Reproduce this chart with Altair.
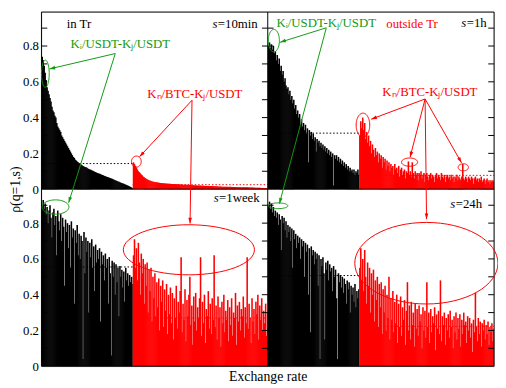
import math
import altair as alt
import pandas as pd

# ---------------- data ----------------
NB, NR = 94, 139          # bars per panel: in Tr (black), outside Tr (red)
PW = NB + NR              # bars per panel
PH = 0.99                 # rho range of one panel

tl_black = [0.74, 0.72, 0.69, 0.65, 0.61, 0.57, 0.55, 0.53, 0.51, 0.49,
            0.46, 0.44, 0.43, 0.41, 0.40, 0.37, 0.35, 0.34, 0.33, 0.32,
            0.30, 0.29, 0.28, 0.27, 0.26, 0.25, 0.24, 0.23, 0.22, 0.21,
            0.20, 0.19, 0.18, 0.175, 0.165, 0.16, 0.155, 0.15, 0.145, 0.14,
            0.138, 0.134, 0.13, 0.127, 0.124, 0.122, 0.119, 0.116, 0.113, 0.11,
            0.108, 0.105, 0.103, 0.1, 0.097, 0.095, 0.092, 0.09, 0.088, 0.086,
            0.084, 0.081, 0.079, 0.077, 0.074, 0.072, 0.07, 0.068, 0.066, 0.064,
            0.062, 0.06, 0.058, 0.056, 0.053, 0.05, 0.048, 0.045, 0.043, 0.041,
            0.039, 0.036, 0.034, 0.032, 0.03, 0.028, 0.025, 0.023, 0.02, 0.018,
            0.015, 0.012, 0.009, 0.006]
tl_red = [0.15, 0.14, 0.13, 0.12, 0.11, 0.10, 0.095, 0.088, 0.082, 0.077,
          0.07, 0.066, 0.062, 0.058, 0.055, 0.052, 0.05, 0.048, 0.046, 0.044,
          0.042, 0.041, 0.04, 0.039, 0.038, 0.037, 0.036, 0.035, 0.034, 0.034,
          0.033, 0.033, 0.032, 0.032, 0.031, 0.031, 0.03, 0.03, 0.03, 0.029,
          0.029, 0.029, 0.028, 0.028, 0.028, 0.027, 0.027, 0.027, 0.026, 0.026,
          0.026, 0.025, 0.025, 0.025, 0.024, 0.024, 0.024, 0.023, 0.023, 0.023,
          0.022, 0.022, 0.022, 0.021, 0.021, 0.021, 0.02, 0.02, 0.02, 0.02,
          0.019, 0.019, 0.019, 0.019, 0.018, 0.018, 0.018, 0.018, 0.017, 0.017,
          0.017, 0.017, 0.016, 0.016, 0.016, 0.016, 0.016, 0.015, 0.015, 0.015,
          0.015, 0.014, 0.014, 0.014, 0.014, 0.014, 0.013, 0.013, 0.013, 0.013,
          0.013, 0.012, 0.012, 0.012, 0.012, 0.012, 0.011, 0.011, 0.011, 0.011,
          0.011, 0.011, 0.01, 0.01, 0.01, 0.01, 0.01, 0.01, 0.01, 0.009,
          0.009, 0.009, 0.009, 0.009, 0.009, 0.008, 0.008, 0.008, 0.008, 0.008,
          0.008, 0.007, 0.007, 0.007, 0.007, 0.007, 0.006, 0.006, 0.006]
tr_black = [0.80, 0.82, 0.79, 0.81, 0.78, 0.80, 0.76, 0.77, 0.72, 0.75,
            0.70, 0.73, 0.66, 0.69, 0.64, 0.66, 0.60, 0.62, 0.58, 0.56,
            0.57, 0.53, 0.55, 0.50, 0.52, 0.48, 0.50, 0.45, 0.47, 0.42,
            0.44, 0.40, 0.42, 0.36, 0.39, 0.35, 0.37, 0.33, 0.36, 0.31,
            0.34, 0.15, 0.33, 0.30, 0.32, 0.28, 0.31, 0.27, 0.29, 0.21,
            0.28, 0.26, 0.27, 0.24, 0.26, 0.23, 0.25, 0.22, 0.24, 0.21,
            0.23, 0.20, 0.22, 0.19, 0.21, 0.18, 0.20, 0.02, 0.19, 0.17,
            0.19, 0.16, 0.18, 0.15, 0.17, 0.14, 0.16, 0.13, 0.15, 0.12,
            0.14, 0.11, 0.13, 0.10, 0.12, 0.10, 0.11, 0.09, 0.11, 0.08,
            0.10, 0.09, 0.11, 0.08]
tr_red = [0.30, 0.38, 0.34, 0.40, 0.33, 0.37, 0.28, 0.32, 0.26, 0.30,
          0.24, 0.27, 0.20, 0.25, 0.22, 0.18, 0.23, 0.19, 0.21, 0.15,
          0.20, 0.17, 0.19, 0.12, 0.18, 0.15, 0.17, 0.11, 0.16, 0.13,
          0.15, 0.10, 0.14, 0.12, 0.13, 0.08, 0.14, 0.11, 0.12, 0.09,
          0.13, 0.07, 0.11, 0.12, 0.08, 0.10, 0.11, 0.06, 0.10, 0.09,
          0.155, 0.08, 0.10, 0.07, 0.15, 0.09, 0.06, 0.10, 0.08, 0.09,
          0.05, 0.09, 0.08, 0.10, 0.06, 0.08, 0.09, 0.04, 0.08, 0.09,
          0.07, 0.05, 0.08, 0.09, 0.06, 0.08, 0.07, 0.04, 0.08, 0.09,
          0.06, 0.08, 0.07, 0.05, 0.09, 0.07, 0.06, 0.08, 0.04, 0.07,
          0.08, 0.06, 0.07, 0.05, 0.08, 0.06, 0.07, 0.04, 0.07, 0.06,
          0.08, 0.05, 0.07, 0.06, 0.05, 0.07, 0.14, 0.06, 0.05, 0.07,
          0.06, 0.04, 0.07, 0.06, 0.05, 0.07, 0.06, 0.03, 0.06, 0.07,
          0.05, 0.06, 0.04, 0.06, 0.05, 0.07, 0.04, 0.05, 0.06, 0.03,
          0.05, 0.06, 0.04, 0.05, 0.03, 0.05, 0.04, 0.05, 0.04]
bl_black = [0.90, 0.93, 0.88, 0.91, 0.85, 0.89, 0.80, 0.87, 0.90, 0.83,
            0.72, 0.86, 0.88, 0.79, 0.84, 0.62, 0.87, 0.81, 0.76, 0.85,
            0.70, 0.83, 0.78, 0.45, 0.82, 0.75, 0.80, 0.66, 0.79, 0.55,
            0.81, 0.72, 0.77, 0.35, 0.76, 0.69, 0.79, 0.62, 0.74, 0.60,
            0.73, 0.70, 0.04, 0.75, 0.52, 0.72, 0.64, 0.70, 0.30, 0.69,
            0.61, 0.71, 0.55, 0.67, 0.42, 0.68, 0.58, 0.65, 0.60, 0.66,
            0.25, 0.64, 0.57, 0.62, 0.48, 0.63, 0.55, 0.60, 0.35, 0.61,
            0.52, 0.06, 0.59, 0.50, 0.58, 0.40, 0.57, 0.47, 0.55, 0.28,
            0.56, 0.50, 0.54, 0.44, 0.53, 0.36, 0.55, 0.48, 0.52, 0.45,
            0.51, 0.47, 0.50, 0.46]
bl_red = [0.62, 0.71, 0.55, 0.66, 0.48, 0.69, 0.58, 0.40, 0.63, 0.52,
          0.60, 0.35, 0.57, 0.45, 0.58, 0.30, 0.54, 0.42, 0.55, 0.25,
          0.50, 0.38, 0.52, 0.28, 0.47, 0.33, 0.49, 0.20, 0.45, 0.36,
          0.48, 0.22, 0.43, 0.31, 0.46, 0.18, 0.40, 0.29, 0.44, 0.24,
          0.41, 0.15, 0.38, 0.27, 0.45, 0.21, 0.36, 0.30, 0.42, 0.61,
          0.19, 0.35, 0.26, 0.43, 0.14, 0.37, 0.28, 0.40, 0.50, 0.23,
          0.34, 0.12, 0.39, 0.25, 0.41, 0.20, 0.33, 0.27, 0.38, 0.61,
          0.17, 0.36, 0.24, 0.40, 0.13, 0.32, 0.28, 0.42, 0.21, 0.35,
          0.18, 0.38, 0.26, 0.62, 0.22, 0.34, 0.15, 0.39, 0.27, 0.33,
          0.11, 0.36, 0.24, 0.40, 0.19, 0.31, 0.26, 0.37, 0.14, 0.33,
          0.23, 0.38, 0.17, 0.30, 0.27, 0.41, 0.12, 0.34, 0.25, 0.36,
          0.20, 0.32, 0.28, 0.39, 0.16, 0.33, 0.24, 0.61, 0.21, 0.35,
          0.27, 0.13, 0.38, 0.25, 0.32, 0.18, 0.36, 0.29, 0.40, 0.15,
          0.34, 0.26, 0.38, 0.20, 0.31, 0.24, 0.35, 0.17, 0.30]
br_black = [0.90, 0.92, 0.88, 0.91, 0.86, 0.89, 0.84, 0.87, 0.83, 0.86,
            0.79, 0.85, 0.82, 0.65, 0.84, 0.80, 0.83, 0.76, 0.81, 0.72,
            0.79, 0.75, 0.78, 0.70, 0.77, 0.55, 0.76, 0.71, 0.74, 0.66,
            0.73, 0.69, 0.72, 0.60, 0.71, 0.67, 0.70, 0.50, 0.69, 0.64,
            0.68, 0.40, 0.66, 0.19, 0.67, 0.62, 0.65, 0.57, 0.64, 0.60,
            0.63, 0.45, 0.62, 0.04, 0.60, 0.56, 0.61, 0.52, 0.15, 0.58,
            0.54, 0.59, 0.48, 0.57, 0.53, 0.55, 0.42, 0.56, 0.50, 0.54,
            0.38, 0.04, 0.52, 0.47, 0.51, 0.44, 0.50, 0.41, 0.49, 0.46,
            0.35, 0.48, 0.43, 0.47, 0.30, 0.45, 0.40, 0.44, 0.36, 0.46,
            0.33, 0.42, 0.38, 0.43]
br_red = [0.55, 0.66, 0.48, 0.60, 0.42, 0.65, 0.50, 0.35, 0.58, 0.45,
          0.55, 0.30, 0.52, 0.40, 0.54, 0.25, 0.48, 0.37, 0.50, 0.22,
          0.46, 0.33, 0.47, 0.18, 0.43, 0.30, 0.45, 0.20, 0.40, 0.27,
          0.50, 0.15, 0.38, 0.26, 0.42, 0.19, 0.36, 0.24, 0.40, 0.13,
          0.35, 0.22, 0.39, 0.17, 0.33, 0.26, 0.37, 0.12, 0.31, 0.47,
          0.20, 0.34, 0.15, 0.36, 0.23, 0.30, 0.11, 0.35, 0.21, 0.32,
          0.17, 0.34, 0.25, 0.29, 0.10, 0.33, 0.20, 0.31, 0.16, 0.47,
          0.22, 0.30, 0.13, 0.32, 0.19, 0.28, 0.24, 0.33, 0.09, 0.29,
          0.21, 0.31, 0.18, 0.48, 0.14, 0.28, 0.23, 0.30, 0.12, 0.27,
          0.20, 0.29, 0.16, 0.31, 0.22, 0.26, 0.10, 0.28, 0.19, 0.30,
          0.15, 0.27, 0.21, 0.29, 0.11, 0.26, 0.18, 0.30, 0.23, 0.25,
          0.13, 0.28, 0.20, 0.27, 0.16, 0.24, 0.08, 0.26, 0.19, 0.41,
          0.22, 0.14, 0.27, 0.18, 0.25, 0.11, 0.24, 0.20, 0.26, 0.15,
          0.23, 0.18, 0.25, 0.12, 0.22, 0.19, 0.24, 0.14, 0.21]

mean_black = [0.143, 0.313, 0.555, 0.507]   # dotted level, in-Tr part
mean_red = [0.025, 0.077, 0.270, 0.223]     # dotted level, outside-Tr part
scale_names = ["=10min", "=1h", "=1week", "=24h"]
ytick_values = [0, 0.2, 0.4, 0.6, 0.8]

BLACK, RED, GREEN = "#000000", "#ff0000", "#119911"
FONT = "Liberation Serif"

# panels: (black, red, x offset, y offset)
panels = [(tl_black, tl_red, 0, PH), (tr_black, tr_red, PW, PH),
          (bl_black, bl_red, 0, 0.0), (br_black, br_red, PW, 0.0)]

bar_rows, mean_rows = [], []
for (blk, red, xo, yo), mb, mr in zip(panels, mean_black, mean_red):
    for vals, start, col in ((blk, xo, BLACK), (red, xo + NB, RED)):
        n = len(vals)
        for i, v in enumerate(vals):
            # slight overlap with the next bar hides anti-aliasing seams
            right = start + i + (1.6 if i < n - 1 else 1.0)
            bar_rows.append({"x": start + i, "x2": right, "y": yo, "y2": yo + v, "col": col})
    mean_rows.append({"x": xo, "x2": xo + NB, "y": yo + mb, "col": BLACK})
    mean_rows.append({"x": xo + NB, "x2": xo + PW, "y": yo + mr, "col": RED})

XD, YD = 2 * PW, 2 * PH
frame_rows = [{"x": 0, "x2": XD, "y": PH, "y2": PH},
              {"x": PW, "x2": PW, "y": 0, "y2": YD},
              {"x": 0, "x2": XD, "y": 0, "y2": 0},
              {"x": 0, "x2": XD, "y": YD, "y2": YD},
              {"x": 0, "x2": 0, "y": 0, "y2": YD},
              {"x": XD, "x2": XD, "y": 0, "y2": YD}]
tick_rows = []
for yo in (0.0, PH):
    for k in range(1, 10):
        v = yo + k / 10
        for a, b in ((0, 6), (PW - 6, PW + 6), (XD - 6, XD)):
            tick_rows.append({"x": a, "x2": b, "y": v, "y2": v})

# annotations in chart data coordinates (bar index, stacked rho)
ellipses = [(4, 1.635, 4, 0.076, GREEN), (14.5, 0.890, 13.8, 0.040, GREEN),
            (239.3, 1.820, 5.7, 0.063, GREEN), (243.7, 0.897, 10, 0.016, GREEN),
            (97.7, 1.144, 5, 0.031, RED), (331, 1.348, 7, 0.067, RED),
            (379, 1.141, 8.3, 0.023, RED), (434.3, 1.112, 5.3, 0.020, RED),
            (151.8, 0.651, 67.5, 0.140, RED), (396.3, 0.576, 73.7, 0.228, RED)]
ell_rows = []
for k, (cx, cy, rx, ry, col) in enumerate(ellipses):
    for t in range(65):
        a = 2 * math.pi * t / 64
        ell_rows.append({"id": k, "o": t, "x": cx + rx * math.cos(a),
                         "y": cy + ry * math.sin(a), "col": col})

arrows = [(76, 1.748, 8.3, 1.662, GREEN), (76, 1.748, 28, 0.914, GREEN),
          (293.3, 1.892, 245.7, 1.811, GREEN), (293.3, 1.892, 245, 0.909, GREEN),
          (155, 1.487, 101, 1.171, RED), (155, 1.487, 153, 0.798, RED),
          (395, 1.494, 339.5, 1.381, RED), (395, 1.494, 379.5, 1.168, RED),
          (395, 1.494, 432.5, 1.137, RED), (395, 1.494, 396.5, 0.822, RED)]

W, H = 460, 360
arrow_rows, head_rows = [], []
for x1, y1, x2, y2, col in arrows:
    arrow_rows.append({"x": x1, "y": y1, "x2": x2, "y2": y2, "col": col})
    sx = (x2 - x1) * W / XD
    sy = (y2 - y1) * H / YD
    ang = math.degrees(math.atan2(sx, sy)) % 360
    head_rows.append({"x": x2, "y": y2, "ang": ang, "col": col})

texts = [("in Tr", 26, 1.910, BLACK), ("Kᵢ/USDT-Kⱼ/USDT", 30, 1.802, GREEN),
         ("Kₙ/BTC-Kⱼ/USDT", 109, 1.521, RED), ("Kᵢ/USDT-Kⱼ/USDT", 242, 1.921, GREEN),
         ("outside Tr", 355, 1.910, RED), ("Kₙ/BTC-Kⱼ/USDT", 351, 1.532, RED)]
text_rows = [{"x": x, "y": y, "t": t, "col": c} for t, x, y, c in texts]
s_pos = [(176, 1.910), (432.3, 1.921), (177.3, 0.939), (421, 0.906)]
s_rows = [{"x": x, "y": y, "t": n} for (x, y), n in zip(s_pos, scale_names)]

# ---------------- chart ----------------
xs = alt.Scale(domain=[0, XD], nice=False, zero=False)
ys = alt.Scale(domain=[0, YD], nice=False, zero=False)
yvals = ytick_values + [PH + v for v in ytick_values]

xaxis = alt.Axis(labels=False, ticks=False, domain=False, grid=False,
                 title="Exchange rate", titleFont=FONT, titleFontSize=14,
                 titleFontWeight="normal", titleColor="#000", titleBaseline="middle",
                 titleY=10)
yaxis = alt.Axis(values=yvals,
                 labelExpr=f"format(datum.value >= {PH - 0.005} ? datum.value - {PH} : datum.value, '.1~f')",
                 ticks=False, tickSize=0, domain=False, grid=False, labelPadding=3,
                 labelFont=FONT, labelFontSize=13, labelColor="#000", labelOverlap=False,
                 labelFlush=False, title="ρ(q=1,s)", titleFont=FONT, titleFontSize=14,
                 titleFontWeight="normal", titleColor="#000", titleX=-26,
                 titleY=H / 2, titleBaseline="middle", titleAlign="center", titleAngle=270)


def X(f="x"):
    return alt.X(f"{f}:Q", scale=xs, axis=xaxis)


def Y(f="y"):
    return alt.Y(f"{f}:Q", scale=ys, axis=yaxis)


col_enc = alt.Color("col:N", scale=None)

bars = alt.Chart(pd.DataFrame(bar_rows)).mark_rect(strokeWidth=0).encode(
    x=X(), x2="x2", y=Y(), y2="y2", color=col_enc)

means = alt.Chart(pd.DataFrame(mean_rows)).mark_rule(strokeDash=[1.5, 2], strokeWidth=1).encode(
    x=X(), x2="x2", y=Y(), color=col_enc)

frame = alt.Chart(pd.DataFrame(frame_rows)).mark_rule(color="#000", strokeWidth=1).encode(
    x=X(), x2="x2", y=Y(), y2="y2")

ticks = alt.Chart(pd.DataFrame(tick_rows)).mark_rule(color="#000", strokeWidth=1).encode(
    x=X(), x2="x2", y=Y(), y2="y2")

ells = alt.Chart(pd.DataFrame(ell_rows)).mark_line(strokeWidth=1).encode(
    x=X(), y=Y(), detail="id:N", order="o:Q", color=col_enc)

arrs = alt.Chart(pd.DataFrame(arrow_rows)).mark_rule(strokeWidth=1).encode(
    x=X(), x2="x2", y=Y(), y2="y2", color=col_enc)

heads = alt.Chart(pd.DataFrame(head_rows)).mark_point(
    shape="M 0 0 L -0.35 1.1 L 0.35 1.1 Z", filled=True, size=110, opacity=1).encode(
    x=X(), y=Y(), angle=alt.Angle("ang:Q", scale=None), color=col_enc)

txt = alt.Chart(pd.DataFrame(text_rows)).mark_text(
    align="left", baseline="middle", font=FONT, fontSize=13).encode(
    x=X(), y=Y(), text="t:N", color=col_enc)

s_it = alt.Chart(pd.DataFrame(s_rows)).mark_text(
    align="left", baseline="middle", font=FONT, fontSize=13, fontStyle="italic",
    color="#000").encode(x=X(), y=Y(), text=alt.value("s"))

s_rest = alt.Chart(pd.DataFrame(s_rows)).mark_text(
    align="left", baseline="middle", font=FONT, fontSize=13, dx=5.5,
    color="#000").encode(x=X(), y=Y(), text="t:N")

chart = alt.layer(bars, means, frame, ticks, ells, arrs, heads, txt, s_it, s_rest).properties(
    width=W, height=H,
    padding={"left": 34, "top": 1, "right": 4, "bottom": 19},
    autosize=alt.AutoSizeParams(type="none"),
).configure_view(stroke=None).configure(background="white")

chart.save("out.html", embed_options={"renderer": "svg", "actions": False})
